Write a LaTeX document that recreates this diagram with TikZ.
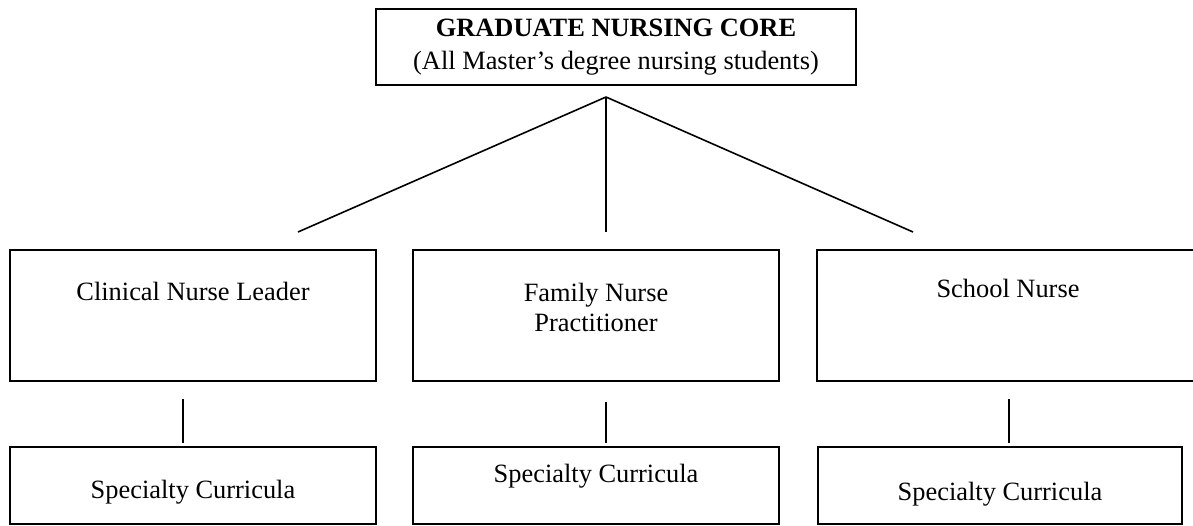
\documentclass[tikz,border=0pt]{standalone}
\usepackage{fontspec}
\setmainfont{Liberation Serif}
\begin{document}
\begin{tikzpicture}[x=0.5pt,y=-0.5pt,
  box/.style={draw, line width=1.1pt, inner sep=0pt, rectangle},
  corebox/.style={draw, line width=0.7pt, inner sep=0pt, rectangle, align=center,
     font=\fontsize{13.2}{16.5}\selectfont},
  lbl/.style={anchor=base, inner sep=0pt, font=\fontsize{13.2}{15}\selectfont, align=center},
  link/.style={line width=0.8pt}]
\fill[white] (0,0) rectangle (1193,525);
\useasboundingbox (0,0) rectangle (1193,525);

\node[corebox, minimum width=240pt, minimum height=38pt] (core) at (616,47)
  {\textbf{GRADUATE NURSING CORE}\\(All Master’s degree nursing students)};

\node[box, minimum width=183pt, minimum height=65.5pt] (cnl) at (193,315.5) {};
\node[box, minimum width=183pt, minimum height=65.5pt] (fnp) at (596,315.5) {};
\node[box, minimum width=191pt, minimum height=65.5pt] (sn) at (1008,315.5) {};
\node[lbl] (cnlt) at (193,300) {Clinical Nurse Leader};
\node[lbl, anchor=north] (fnpt) at (596,283) {Family Nurse\\Practitioner};
\node[lbl] (snt) at (1008,297) {School Nurse};

\node[box, minimum width=183pt, minimum height=38.5pt] (sc1) at (193,485.5) {};
\node[box, minimum width=183pt, minimum height=38.5pt] (sc2) at (596,485.5) {};
\node[box, minimum width=182pt, minimum height=38.5pt] (sc3) at (1000,485.5) {};
\node[lbl] (sc1t) at (193,498) {Specialty Curricula};
\node[lbl] (sc2t) at (596,482) {Specialty Curricula};
\node[lbl] (sc3t) at (1000,500) {Specialty Curricula};

\coordinate (apex) at (606,97);
\coordinate (e1) at (298,232);
\coordinate (e2) at (606,232);
\coordinate (e3) at (913,232);
\draw[link] (apex) -- (e1);
\draw[link] (apex) -- (e2);
\draw[link] (apex) -- (e3);

\coordinate (v1a) at (183,399); \coordinate (v1b) at (183,443);
\coordinate (v2a) at (606,402); \coordinate (v2b) at (606,443);
\coordinate (v3a) at (1009,399); \coordinate (v3b) at (1009,443);
\draw[link] (v1a) -- (v1b);
\draw[link] (v2a) -- (v2b);
\draw[link] (v3a) -- (v3b);
\end{tikzpicture}
\end{document}
